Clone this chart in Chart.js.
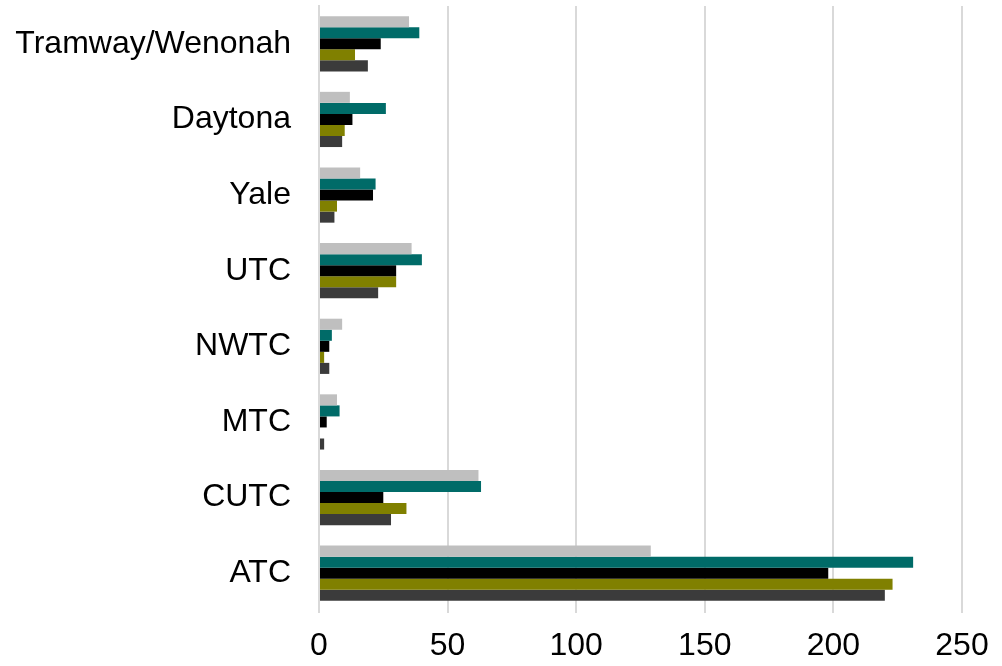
<!DOCTYPE html>
<html>
<head>
<meta charset="utf-8">
<script src="https://cdn.jsdelivr.net/npm/chart.js@4/dist/chart.umd.min.js"></script>
<style>
html,body{margin:0;padding:0;background:#fff;}
#wrap{width:1002px;height:666px;position:relative;}
</style>
</head>
<body>
<div id="wrap"><canvas id="c" width="1002" height="666"></canvas></div>
<script>
const categories = ["Tramway/Wenonah","Daytona","Yale","UTC","NWTC","MTC","CUTC","ATC"];
const series1 = [35, 12, 16, 36, 9, 7, 62, 129];
const series2 = [39, 26, 22, 40, 5, 8, 63, 231];
const series3 = [24, 13, 21, 30, 4, 3, 25, 198];
const series4 = [14, 10, 7, 30, 2, 0, 34, 223];
const series5 = [19, 9, 6, 23, 4, 2, 28, 220];
const xTicks = [0, 50, 100, 150, 200, 250];

const font = {family: "'Liberation Sans', Arial, sans-serif", size: 32};
const ds = (label, data, color) => ({label, data, backgroundColor: color, borderWidth: 0,
  barPercentage: 1.0, categoryPercentage: 0.73});

new Chart(document.getElementById('c'), {
  type: 'bar',
  data: {
    labels: categories,
    datasets: [
      ds('Series 1', series1, '#bfbfbf'),
      ds('Series 2', series2, '#006b68'),
      ds('Series 3', series3, '#000000'),
      ds('Series 4', series4, '#808000'),
      ds('Series 5', series5, '#3b3b3b')
    ]
  },
  options: {
    indexAxis: 'y',
    responsive: false,
    animation: false,
    layout: {padding: {top: 6, right: 40, left: 0, bottom: 0}},
    plugins: {legend: {display: false}, tooltip: {enabled: false}},
    scales: {
      x: {
        min: 0, max: 250,
        afterBuildTicks: s => { s.ticks = xTicks.map(v => ({value: v})); },
        afterFit: s => { s.height = 55; s.paddingLeft = 0; s.paddingRight = 0; },
        grid: {color: '#d9d9d9', lineWidth: 2, drawTicks: true, tickLength: 2},
        border: {display: false},
        ticks: {font: font, color: '#000', padding: 14, maxRotation: 0}
      },
      y: {
        afterFit: s => { s.width = 319; s.paddingTop = 0; s.paddingBottom = 0; },
        grid: {display: false, drawTicks: false},
        border: {display: true, color: '#d9d9d9', width: 2},
        ticks: {font: font, color: '#000', padding: 28}
      }
    }
  }
});
</script>
</body>
</html>
